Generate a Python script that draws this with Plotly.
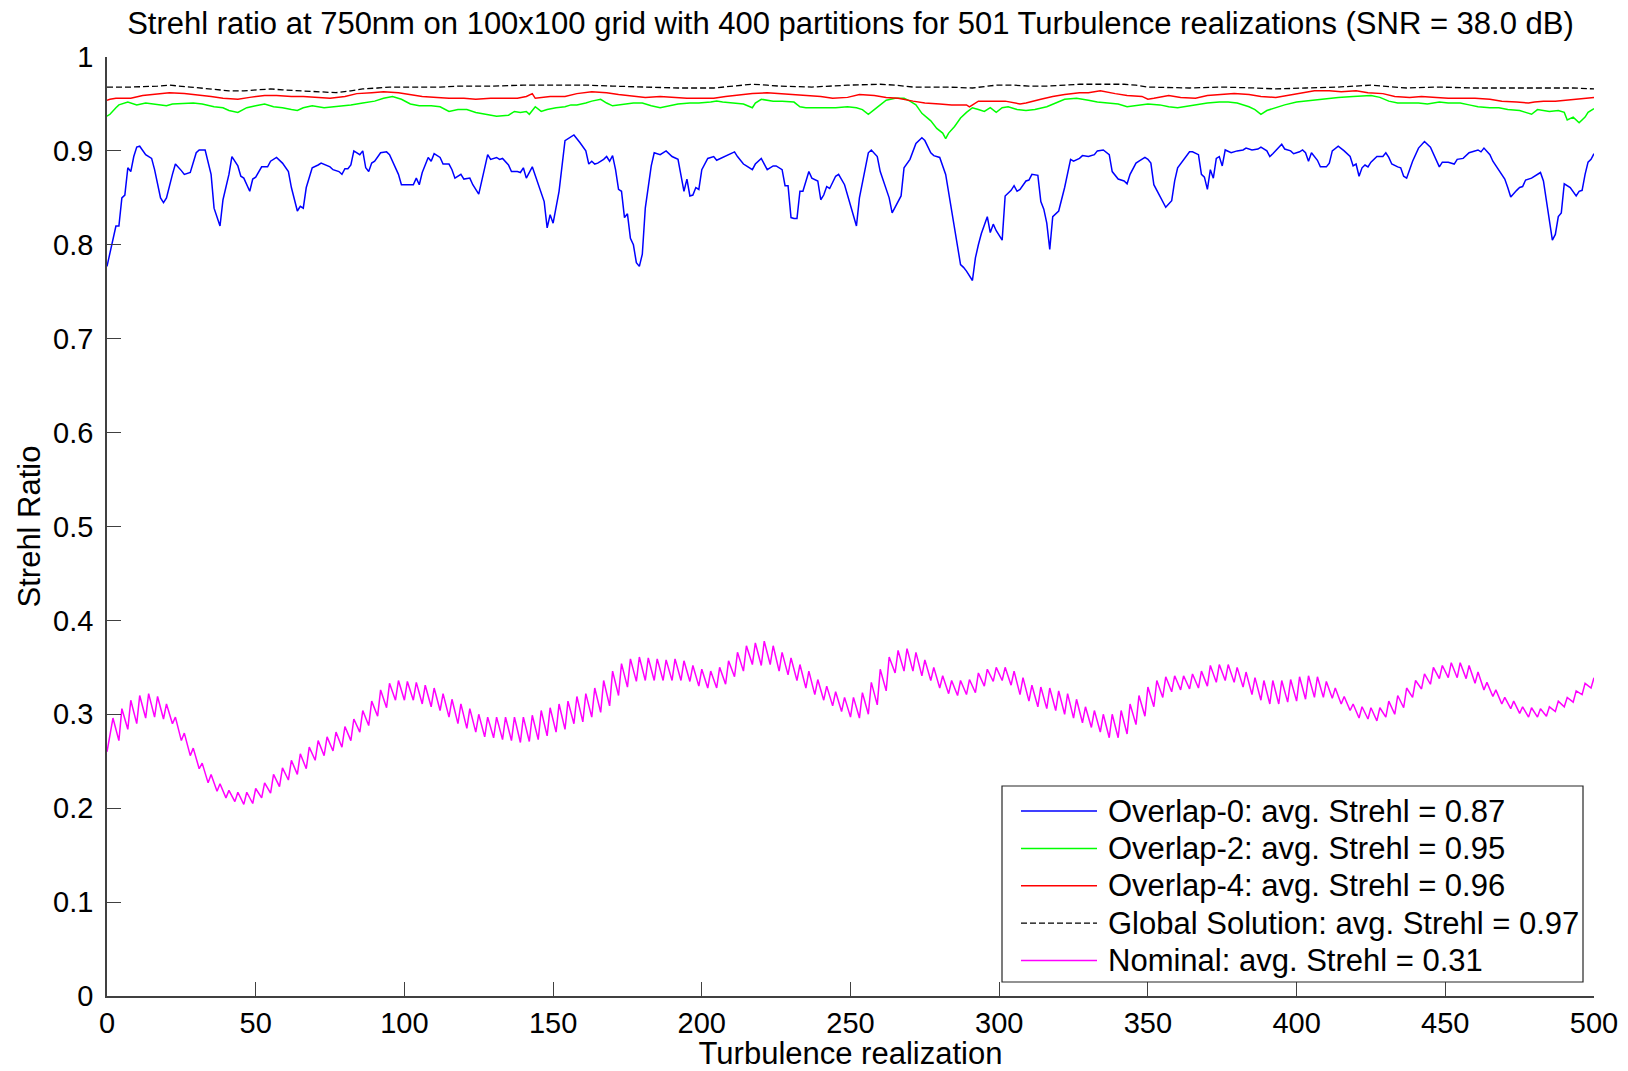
import plotly.graph_objects as go

# Strehl ratio per turbulence realization (index, value)
overlap0_pts = [
    (0,0.777),(2,0.804),(3,0.820),(4,0.820),(5,0.850),(6,0.853),(7,0.882),(8,0.878),(9,0.894),(10,0.904),
    (11,0.905),(13,0.896),(15,0.892),(16,0.880),(18,0.850),(19,0.845),(20,0.850),(22,0.875),(23,0.886),(25,0.879),
    (26,0.875),(28,0.877),(30,0.898),(31,0.901),(33,0.901),(35,0.875),(36,0.839),(38,0.820),(39,0.848),(41,0.875),
    (42,0.894),(44,0.884),(45,0.873),(46,0.871),(48,0.857),(49,0.870),(50,0.872),(52,0.883),(54,0.883),(55,0.889),
    (57,0.893),(59,0.887),(61,0.878),(62,0.861),(64,0.836),(65,0.841),(66,0.839),(67,0.861),(69,0.882),(71,0.885),
    (72,0.887),(75,0.883),(76,0.880),(78,0.878),(79,0.875),(80,0.881),(81,0.881),(82,0.885),(83,0.900),(85,0.896),
    (86,0.900),(87,0.882),(88,0.878),(89,0.887),(90,0.889),(92,0.898),(94,0.899),(95,0.896),(96,0.889),(98,0.875),
    (99,0.864),(101,0.864),(103,0.864),(104,0.871),(105,0.864),(106,0.877),(107,0.886),(108,0.893),(109,0.889),(110,0.897),
    (112,0.893),(113,0.886),(115,0.886),(116,0.880),(117,0.871),(119,0.875),(120,0.870),(122,0.871),(123,0.864),(125,0.854),
    (127,0.882),(128,0.896),(129,0.891),(131,0.893),(132,0.891),(133,0.892),(135,0.885),(136,0.878),(138,0.878),(139,0.877),
    (140,0.882),(141,0.871),(143,0.883),(145,0.864),(147,0.846),(148,0.818),(149,0.832),(150,0.823),(152,0.857),(154,0.911),
    (157,0.917),(159,0.909),(161,0.900),(162,0.886),(163,0.889),(164,0.886),(165,0.887),(167,0.891),(168,0.894),(169,0.889),
    (170,0.895),(171,0.880),(172,0.859),(173,0.857),(174,0.829),(175,0.833),(176,0.807),(177,0.800),(178,0.781),(179,0.777),
    (180,0.790),(181,0.839),(182,0.862),(183,0.884),(184,0.898),(186,0.896),(188,0.900),(190,0.894),(192,0.891),(194,0.857),
    (195,0.870),(196,0.852),(197,0.853),(198,0.861),(199,0.859),(200,0.880),(202,0.892),(204,0.894),(205,0.890),(207,0.893),
    (209,0.896),(211,0.899),(212,0.894),(214,0.886),(215,0.884),(217,0.880),(218,0.886),(220,0.892),(222,0.880),(224,0.884),
    (225,0.884),(227,0.880),(228,0.863),(229,0.863),(230,0.829),(231,0.828),(232,0.828),(233,0.857),(234,0.857),(236,0.878),
    (237,0.871),(239,0.868),(240,0.848),(241,0.853),(242,0.862),(243,0.860),(245,0.873),(246,0.875),(248,0.864),(250,0.843),
    (252,0.820),(253,0.850),(255,0.882),(256,0.898),(257,0.901),(259,0.894),(260,0.878),(261,0.868),(263,0.850),(264,0.834),
    (266,0.847),(267,0.852),(268,0.882),(270,0.891),(272,0.908),(274,0.914),(275,0.911),(277,0.898),(278,0.895),(280,0.893),
    (282,0.875),(283,0.855),(285,0.818),(287,0.779),(288,0.776),(289,0.772),(291,0.762),(292,0.786),(293,0.800),(294,0.812),
    (296,0.830),(297,0.813),(298,0.822),(299,0.815),(301,0.805),(302,0.852),(304,0.858),(305,0.863),(306,0.857),(307,0.859),
    (309,0.868),(310,0.869),(311,0.875),(313,0.874),(314,0.846),(315,0.838),(316,0.823),(317,0.795),(318,0.830),(320,0.836),
    (322,0.861),(324,0.891),(325,0.889),(327,0.892),(328,0.895),(330,0.894),(332,0.896),(333,0.900),(335,0.901),(337,0.896),
    (338,0.878),(340,0.870),(342,0.868),(343,0.865),(344,0.875),(346,0.887),(347,0.889),(349,0.893),(350,0.891),(351,0.887),
    (352,0.864),(354,0.852),(355,0.845),(356,0.840),(358,0.847),(359,0.868),(360,0.882),(362,0.891),(364,0.899),(365,0.899),
    (367,0.896),(368,0.875),(369,0.872),(370,0.859),(371,0.880),(372,0.871),(373,0.892),(374,0.894),(375,0.884),(376,0.901),
    (378,0.898),(380,0.900),(382,0.901),(383,0.903),(385,0.901),(387,0.902),(388,0.904),(390,0.900),(391,0.894),(392,0.897),
    (395,0.907),(396,0.902),(398,0.900),(399,0.897),(401,0.899),(402,0.901),(403,0.898),(404,0.889),(405,0.898),(407,0.890),
    (408,0.883),(410,0.883),(411,0.887),(412,0.900),(414,0.905),(416,0.900),(418,0.894),(419,0.884),(420,0.886),(421,0.873),
    (422,0.882),(423,0.885),(424,0.883),(425,0.888),(427,0.894),(429,0.894),(430,0.898),(431,0.893),(432,0.886),(434,0.883),
    (435,0.882),(436,0.873),(437,0.871),(438,0.880),(439,0.889),(441,0.903),(443,0.910),(445,0.904),(447,0.889),(448,0.883),
    (449,0.888),(451,0.888),(453,0.886),(454,0.891),(456,0.892),(458,0.898),(461,0.901),(462,0.899),(463,0.903),(465,0.896),
    (466,0.889),(468,0.880),(470,0.870),(471,0.861),(472,0.851),(474,0.858),(475,0.861),(476,0.862),(477,0.869),(479,0.871),
    (480,0.873),(482,0.877),(483,0.868),(484,0.847),(485,0.825),(486,0.805),(487,0.811),(488,0.830),(489,0.834),(490,0.865),
    (492,0.861),(493,0.857),(494,0.852),(495,0.857),(496,0.858),(497,0.875),(498,0.888),(499,0.891),(500,0.897),
]

overlap2_pts = [
    (0,0.937),(1,0.939),(3,0.946),(4,0.949),(7,0.952),(10,0.949),(13,0.951),(17,0.949),(20,0.948),(22,0.950),
    (26,0.951),(29,0.951),(32,0.950),(36,0.947),(39,0.946),(41,0.943),(44,0.941),(47,0.946),(50,0.948),(53,0.950),
    (56,0.947),(59,0.946),(62,0.944),(64,0.943),(66,0.946),(69,0.948),(73,0.946),(77,0.947),(82,0.949),(86,0.951),
    (90,0.953),(93,0.956),(96,0.958),(99,0.955),(102,0.950),(105,0.948),(109,0.948),(112,0.947),(115,0.942),(118,0.944),
    (121,0.944),(124,0.941),(128,0.939),(131,0.937),(135,0.938),(137,0.942),(139,0.941),(141,0.942),(142,0.939),(144,0.947),
    (146,0.942),(148,0.944),(151,0.946),(154,0.947),(156,0.949),(158,0.949),(161,0.951),(163,0.953),(166,0.955),(168,0.951),
    (170,0.948),(173,0.949),(177,0.951),(180,0.951),(183,0.948),(186,0.946),(189,0.948),(192,0.950),(196,0.951),(199,0.951),
    (203,0.952),(205,0.953),(207,0.952),(210,0.951),(214,0.950),(217,0.946),(218,0.951),(220,0.955),(224,0.953),(227,0.953),
    (231,0.952),(233,0.947),(235,0.946),(238,0.946),(242,0.946),(245,0.946),(249,0.947),(252,0.946),(254,0.944),(256,0.939),
    (258,0.944),(260,0.949),(262,0.954),(265,0.956),(268,0.956),(270,0.953),(272,0.949),(274,0.940),(277,0.932),(279,0.924),
    (281,0.919),(282,0.913),(283,0.919),(285,0.926),(287,0.935),(289,0.941),(291,0.946),(293,0.944),(295,0.942),(297,0.946),
    (299,0.941),(301,0.946),(303,0.947),(306,0.944),(309,0.943),(312,0.944),(316,0.947),(319,0.951),(322,0.955),(326,0.956),
    (329,0.955),(330,0.954),(333,0.952),(337,0.951),(340,0.950),(343,0.947),(347,0.949),(350,0.950),(354,0.949),(357,0.947),
    (360,0.946),(364,0.948),(367,0.950),(370,0.951),(374,0.952),(377,0.952),(380,0.951),(384,0.947),(386,0.944),(388,0.939),
    (390,0.943),(393,0.946),(396,0.949),(400,0.952),(403,0.953),(407,0.955),(411,0.956),(414,0.957),(419,0.958),(425,0.959),
    (428,0.957),(431,0.953),(434,0.951),(438,0.951),(441,0.951),(444,0.950),(448,0.952),(451,0.951),(455,0.951),(458,0.949),
    (461,0.947),(465,0.946),(468,0.946),(471,0.944),(475,0.943),(477,0.941),(479,0.939),(481,0.944),(485,0.942),(488,0.943),
    (490,0.941),(491,0.933),(493,0.936),(495,0.930),(497,0.936),(498,0.941),(500,0.945),
]

overlap4_pts = [
    (0,0.954),(1,0.955),(3,0.956),(8,0.956),(12,0.959),(17,0.961),(21,0.962),(26,0.961),(30,0.960),(35,0.958),
    (39,0.956),(44,0.955),(48,0.957),(53,0.959),(57,0.959),(62,0.958),(66,0.958),(71,0.957),(75,0.956),(80,0.958),
    (84,0.961),(89,0.962),(93,0.963),(98,0.962),(102,0.960),(106,0.958),(111,0.957),(115,0.956),(120,0.956),(124,0.955),
    (129,0.956),(133,0.956),(138,0.956),(141,0.958),(143,0.961),(144,0.956),(149,0.958),(154,0.958),(158,0.961),(163,0.963),
    (168,0.962),(172,0.960),(177,0.958),(181,0.957),(186,0.958),(190,0.957),(195,0.956),(199,0.956),(204,0.956),(208,0.958),
    (213,0.960),(217,0.961),(222,0.962),(226,0.961),(231,0.960),(235,0.959),(240,0.958),(244,0.956),(249,0.957),(253,0.960),
    (258,0.959),(262,0.957),(266,0.956),(271,0.953),(275,0.951),(280,0.950),(284,0.949),(289,0.949),(290,0.947),(293,0.953),
    (298,0.953),(302,0.953),(307,0.950),(309,0.951),(314,0.955),(318,0.958),(322,0.960),(327,0.962),(330,0.962),(334,0.964),
    (339,0.961),(343,0.959),(348,0.958),(350,0.955),(352,0.956),(357,0.959),(361,0.957),(366,0.956),(370,0.959),(375,0.960),
    (379,0.961),(384,0.960),(388,0.958),(393,0.957),(397,0.959),(402,0.962),(406,0.964),(411,0.964),(415,0.963),(420,0.964),
    (424,0.962),(429,0.961),(433,0.958),(438,0.957),(442,0.958),(447,0.957),(451,0.956),(456,0.956),(460,0.956),(465,0.955),
    (469,0.953),(474,0.952),(478,0.951),(480,0.952),(483,0.953),(487,0.953),(491,0.954),(496,0.956),(500,0.957),
]

global_pts = [
    (0,0.968),(8,0.968),(17,0.969),(21,0.970),(28,0.968),(35,0.966),(41,0.964),(46,0.964),(50,0.965),(55,0.966),
    (59,0.965),(64,0.964),(71,0.963),(77,0.962),(82,0.964),(86,0.966),(91,0.967),(95,0.968),(102,0.968),(112,0.968),
    (118,0.969),(129,0.969),(140,0.970),(151,0.970),(162,0.970),(170,0.969),(181,0.968),(192,0.967),(204,0.967),(213,0.970),
    (217,0.971),(222,0.970),(226,0.969),(237,0.968),(249,0.970),(260,0.971),(265,0.970),(271,0.968),(282,0.968),(291,0.967),
    (299,0.970),(305,0.970),(310,0.969),(316,0.969),(321,0.970),(327,0.971),(333,0.971),(342,0.971),(346,0.970),(350,0.968),
    (364,0.967),(375,0.968),(386,0.967),(393,0.966),(403,0.967),(414,0.968),(425,0.970),(437,0.967),(448,0.968),(459,0.967),
    (470,0.967),(482,0.967),(493,0.967),(500,0.966),
]

nominal_pts = [
    (0,0.260),(2,0.296),(4,0.272),(5,0.306),(7,0.284),(8,0.315),(10,0.290),(11,0.320),(13,0.296),(14,0.322),
    (16,0.297),(17,0.319),(19,0.295),(20,0.311),(22,0.290),(23,0.297),(25,0.272),(26,0.280),(28,0.256),(29,0.264),
    (31,0.242),(32,0.248),(34,0.227),(35,0.236),(37,0.218),(38,0.226),(40,0.211),(41,0.219),(43,0.207),(44,0.217),
    (46,0.204),(47,0.217),(49,0.205),(50,0.221),(52,0.211),(53,0.227),(55,0.216),(56,0.236),(58,0.223),(59,0.243),
    (61,0.230),(62,0.251),(64,0.236),(65,0.258),(67,0.242),(68,0.265),(70,0.251),(71,0.272),(73,0.256),(74,0.276),
    (76,0.261),(77,0.281),(79,0.265),(80,0.287),(82,0.272),(83,0.295),(85,0.281),(86,0.304),(88,0.288),(89,0.314),
    (91,0.298),(92,0.326),(94,0.307),(95,0.333),(97,0.315),(98,0.336),(100,0.315),(101,0.335),(103,0.315),(104,0.334),
    (106,0.311),(107,0.331),(109,0.308),(110,0.328),(112,0.304),(113,0.322),(115,0.297),(116,0.316),(118,0.290),(119,0.311),
    (121,0.285),(122,0.306),(124,0.281),(125,0.300),(127,0.276),(128,0.297),(130,0.275),(131,0.297),(133,0.273),(134,0.297),
    (136,0.272),(137,0.297),(139,0.270),(140,0.297),(142,0.271),(143,0.299),(145,0.273),(146,0.304),(148,0.277),(149,0.307),
    (151,0.281),(152,0.311),(154,0.284),(155,0.314),(157,0.290),(158,0.319),(160,0.292),(161,0.322),(163,0.297),(164,0.328),
    (166,0.302),(167,0.336),(169,0.309),(170,0.346),(172,0.320),(173,0.354),(175,0.329),(176,0.359),(178,0.335),(179,0.361),
    (181,0.336),(182,0.360),(184,0.336),(185,0.359),(187,0.336),(188,0.358),(190,0.336),(191,0.359),(193,0.336),(194,0.357),
    (196,0.335),(197,0.352),(199,0.330),(200,0.348),(202,0.328),(203,0.346),(205,0.328),(206,0.350),(208,0.332),(209,0.357),
    (211,0.340),(212,0.366),(214,0.346),(215,0.373),(217,0.353),(218,0.376),(220,0.352),(221,0.378),(223,0.353),(224,0.373),
    (226,0.346),(227,0.366),(229,0.342),(230,0.360),(232,0.336),(233,0.353),(235,0.328),(236,0.346),(238,0.321),(239,0.337),
    (241,0.315),(242,0.330),(244,0.309),(245,0.324),(247,0.303),(248,0.318),(250,0.297),(251,0.318),(253,0.296),(254,0.323),
    (256,0.300),(257,0.334),(259,0.310),(260,0.348),(262,0.325),(263,0.361),(265,0.344),(266,0.368),(268,0.346),(269,0.370),
    (271,0.346),(272,0.366),(274,0.341),(275,0.358),(277,0.336),(278,0.350),(280,0.328),(281,0.341),(283,0.322),(284,0.336),
    (286,0.320),(287,0.336),(289,0.321),(290,0.337),(292,0.323),(293,0.344),(295,0.330),(296,0.348),(298,0.335),(299,0.350),
    (301,0.336),(302,0.350),(304,0.331),(305,0.346),(307,0.321),(308,0.339),(310,0.314),(311,0.331),(313,0.308),(314,0.329),
    (316,0.306),(317,0.328),(319,0.304),(320,0.325),(322,0.300),(323,0.322),(325,0.296),(326,0.316),(328,0.291),(329,0.308),
    (331,0.286),(332,0.304),(334,0.281),(335,0.300),(337,0.275),(338,0.300),(340,0.275),(341,0.304),(343,0.279),(344,0.311),
    (346,0.289),(347,0.320),(349,0.298),(350,0.329),(352,0.308),(353,0.336),(355,0.318),(356,0.340),(358,0.324),(359,0.341),
    (361,0.326),(362,0.341),(364,0.327),(365,0.343),(367,0.328),(368,0.346),(370,0.330),(371,0.352),(373,0.334),(374,0.353),
    (376,0.336),(377,0.353),(379,0.334),(380,0.350),(382,0.329),(383,0.345),(385,0.321),(386,0.339),(388,0.315),(389,0.336),
    (391,0.311),(392,0.336),(394,0.311),(395,0.336),(397,0.313),(398,0.337),(400,0.314),(401,0.340),(403,0.316),(404,0.341),
    (406,0.318),(407,0.340),(409,0.318),(410,0.335),(412,0.317),(413,0.328),(415,0.311),(416,0.319),(418,0.304),(419,0.311),
    (421,0.296),(422,0.308),(424,0.295),(425,0.307),(427,0.293),(428,0.307),(430,0.297),(431,0.314),(433,0.300),(434,0.320),
    (436,0.307),(437,0.328),(439,0.318),(440,0.336),(442,0.327),(443,0.343),(445,0.332),(446,0.350),(448,0.338),(449,0.352),
    (451,0.339),(452,0.355),(454,0.339),(455,0.355),(457,0.338),(458,0.352),(460,0.333),(461,0.345),(463,0.326),(464,0.334),
    (466,0.319),(467,0.326),(469,0.311),(470,0.318),(472,0.306),(473,0.314),(475,0.301),(476,0.308),(478,0.297),(479,0.307),
    (481,0.297),(482,0.306),(484,0.298),(485,0.308),(487,0.303),(488,0.314),(490,0.308),(491,0.318),(493,0.313),(494,0.325),
    (496,0.321),(497,0.333),(499,0.328),(500,0.339),
]

series_names = [
    "Overlap-0: avg. Strehl = 0.87",
    "Overlap-2: avg. Strehl = 0.95",
    "Overlap-4: avg. Strehl = 0.96",
    "Global Solution: avg. Strehl = 0.97",
    "Nominal: avg. Strehl = 0.31",
]
series_colors = ["#0000ff", "#00ff00", "#ff0000", "#000000", "#ff00ff"]
series_dash = ["solid", "solid", "solid", "6px,3px", "solid"]
series_data = [overlap0_pts, overlap2_pts, overlap4_pts, global_pts, nominal_pts]

y_ticks = [0, 0.1, 0.2, 0.3, 0.4, 0.5, 0.6, 0.7, 0.8, 0.9, 1]
y_ticktext = ["0", "0.1", "0.2", "0.3", "0.4", "0.5", "0.6", "0.7", "0.8", "0.9", "1"]
x_ticks = [0, 50, 100, 150, 200, 250, 300, 350, 400, 450, 500]

FONT = "Liberation Sans, Arial, sans-serif"
AXIS_GREY = "#404040"
TICK_SIZE = 29
LABEL_SIZE = 31

W, H = 1628, 1071
ML, MR, MT, MB = 107, 34, 57, 75
PW, PH = W - ML - MR, H - MT - MB


def px_x(px):
    """Page pixel column -> paper x fraction of the plot area."""
    return (px - ML) / PW


def px_y(py):
    """Page pixel row -> paper y fraction of the plot area."""
    return (H - MB - py) / PH


fig = go.Figure()
for pts, name, color, dash in zip(series_data, series_names, series_colors, series_dash):
    fig.add_trace(go.Scatter(
        x=[p[0] for p in pts], y=[p[1] for p in pts], mode="lines", name=name,
        showlegend=False,
        line=dict(color=color, width=1.5 if dash == "solid" else 1.3, dash=dash),
    ))

# Boxed legend in the lower-right corner of the axes (MATLAB style spacing)
LEG_LEFT, LEG_RIGHT, LEG_TOP, LEG_BOTTOM = 1002, 1583, 786, 982
LEG_ROW0, LEG_ROW_STEP = 811, 37.4
LEG_LINE_X0, LEG_LINE_X1, LEG_TEXT_X = 1021, 1097, 1106

shapes = [dict(
    type="rect", xref="paper", yref="paper",
    x0=px_x(LEG_LEFT), x1=px_x(LEG_RIGHT), y0=px_y(LEG_BOTTOM), y1=px_y(LEG_TOP),
    line=dict(color="#262626", width=1.2), fillcolor="white", layer="above",
)]
annotations = []
for i, (name, color, dash) in enumerate(zip(series_names, series_colors, series_dash)):
    row_y = px_y(LEG_ROW0 + i * LEG_ROW_STEP)
    shapes.append(dict(
        type="line", xref="paper", yref="paper",
        x0=px_x(LEG_LINE_X0), x1=px_x(LEG_LINE_X1), y0=row_y, y1=row_y,
        line=dict(color=color, width=1.5 if dash == "solid" else 1.2, dash=dash), layer="above",
    ))
    annotations.append(dict(
        xref="paper", yref="paper", x=px_x(LEG_TEXT_X), y=row_y,
        xanchor="left", yanchor="middle", text=name, showarrow=False,
        font=dict(family=FONT, size=LABEL_SIZE, color="black"),
    ))

fig.update_layout(
    width=W, height=H,
    margin=dict(l=ML, r=MR, t=MT, b=MB, autoexpand=False),
    paper_bgcolor="white", plot_bgcolor="white",
    font=dict(family=FONT, size=TICK_SIZE, color="black"),
    title=dict(
        text="Strehl ratio at 750nm on 100x100 grid with 400 partitions for 501 Turbulence realizations (SNR = 38.0 dB)",
        x=(ML + PW / 2) / W, xanchor="center",
        y=1 - 23 / H, yanchor="middle",
        font=dict(family=FONT, size=LABEL_SIZE, color="black"),
    ),
    xaxis=dict(
        range=[0, 500], tickvals=x_ticks, ticks="inside", ticklen=14, tickwidth=1,
        tickcolor=AXIS_GREY, showline=True, linecolor=AXIS_GREY, linewidth=1.5,
        showgrid=False, zeroline=False, mirror=False, ticklabelstandoff=0,
        title=dict(text="Turbulence realization", standoff=14, font=dict(size=LABEL_SIZE)),
        tickfont=dict(size=TICK_SIZE),
    ),
    yaxis=dict(
        range=[0, 1], tickvals=y_ticks, ticktext=y_ticktext, ticks="inside", ticklen=14,
        tickwidth=1, tickcolor=AXIS_GREY, showline=True, linecolor=AXIS_GREY, linewidth=1.5,
        showgrid=False, zeroline=False, mirror=False, ticklabelstandoff=6,
        title=dict(text="Strehl Ratio", standoff=3, font=dict(size=LABEL_SIZE)),
        tickfont=dict(size=TICK_SIZE),
    ),
    shapes=shapes,
    annotations=annotations,
    showlegend=False,
)

fig.write_html("out.html")
